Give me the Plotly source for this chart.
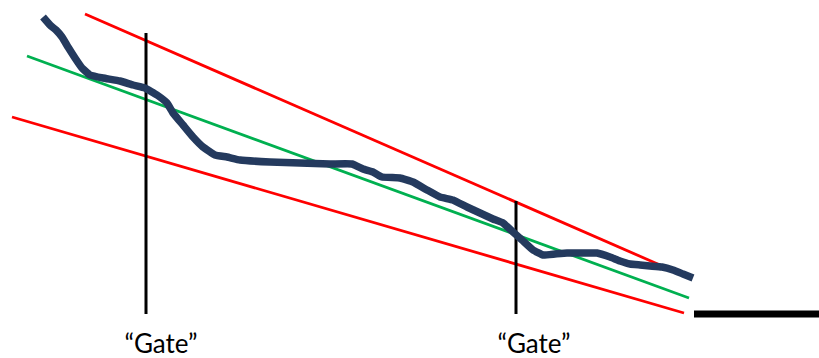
import plotly.graph_objects as go

# Data (chart units: x to the right, y downward)
red_upper_x = [85, 660]
red_upper_y = [14, 265]
red_lower_x = [12, 684]
red_lower_y = [117, 313]
green_x = [27, 689]
green_y = [56, 298]
gate1_x = [146, 146]
gate1_y = [33, 314]
gate2_x = [516, 516]
gate2_y = [201, 314]
base_x = [694, 822]
base_y = [314, 314]
curve_x = [43, 50, 56, 62, 68, 75, 82, 90, 103, 120, 133, 145, 157, 167, 173, 183, 193, 203, 215, 227,
           240, 270, 300, 330, 352, 363, 373, 382, 400, 413, 427, 440, 453, 467, 480, 493, 503, 513, 522, 533,
           543, 555, 567, 582, 597, 610, 620, 630, 640, 650, 662, 673, 683, 693]
curve_y = [17, 25, 30, 37, 47, 58, 68, 75, 78, 81, 85, 88, 95, 103, 113, 125, 137, 147, 155, 157,
           160, 162, 163, 164, 164, 169, 172, 177, 178, 182, 190, 197, 200, 207, 213, 219, 223, 232, 240, 250,
           255, 254, 253, 253, 253, 257, 261, 264, 265, 266, 267, 270, 274, 278]
label_text = ["\u201cGate\u201d", "\u201cGate\u201d"]
label_x = [161, 534]
label_y = [346, 346]

fig = go.Figure()
fig.add_trace(go.Scatter(x=red_upper_x, y=red_upper_y, mode="lines", line=dict(color="#FF0000", width=2.8)))
fig.add_trace(go.Scatter(x=red_lower_x, y=red_lower_y, mode="lines", line=dict(color="#FF0000", width=2.8)))
fig.add_trace(go.Scatter(x=green_x, y=green_y, mode="lines", line=dict(color="#00B050", width=2.8)))
fig.add_trace(go.Scatter(x=gate1_x, y=gate1_y, mode="lines", line=dict(color="#000000", width=3)))
fig.add_trace(go.Scatter(x=gate2_x, y=gate2_y, mode="lines", line=dict(color="#000000", width=3)))
fig.add_trace(go.Scatter(x=base_x, y=base_y, mode="lines", line=dict(color="#000000", width=7)))
fig.add_trace(go.Scatter(x=curve_x, y=curve_y, mode="lines",
                         line=dict(color="#243A5E", width=7.5, shape="spline", smoothing=0.3)))
fig.add_trace(go.Scatter(x=label_x, y=label_y, mode="text", text=label_text, cliponaxis=False,
                         textfont=dict(family="Lato, Open Sans, sans-serif", size=26, color="#000000")))

fig.update_layout(
    width=819, height=358, margin=dict(l=0, r=0, t=0, b=0),
    paper_bgcolor="white", plot_bgcolor="white", showlegend=False,
    xaxis=dict(range=[0, 819], visible=False, fixedrange=True),
    yaxis=dict(range=[358, 0], visible=False, fixedrange=True),
)
fig.write_html("out.html", config={"displayModeBar": False},
               post_script="document.body.style.margin='0';document.body.style.overflow='hidden';")
